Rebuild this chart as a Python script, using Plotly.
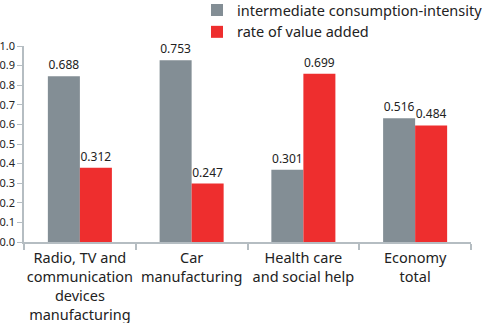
import plotly.graph_objects as go

categories = ["Radio, TV and<br>communication<br>devices<br>manufacturing",
              "Car<br>manufacturing",
              "Health care<br>and social help",
              "Economy<br>total"]
series_names = ["intermediate consumption-intensity", "rate of value added"]
intermediate = [0.846, 0.927, 0.368, 0.631]
value_added = [0.379, 0.298, 0.858, 0.595]
# printed value labels
intermediate_labels = ["0.688", "0.753", "0.301", "0.516"]
value_added_labels = ["0.312", "0.247", "0.699", "0.484"]
y_ticks = [0.0, 0.1, 0.2, 0.3, 0.4, 0.5, 0.6, 0.7, 0.8, 0.9, 1.0]

GRAY = "#838e95"
RED = "#ee2e2e"
AXIS = "#b5bdc2"
FONT = "Noto Sans"

fig = go.Figure()
fig.add_trace(go.Bar(x=categories, y=intermediate, name=series_names[0],
                     marker=dict(color=GRAY, line=dict(width=0)),
                     text=intermediate_labels, textposition="outside",
                     textfont=dict(size=12, color="#222"), cliponaxis=False))
fig.add_trace(go.Bar(x=categories, y=value_added, name=series_names[1],
                     marker=dict(color=RED, line=dict(width=0)),
                     text=value_added_labels, textposition="outside",
                     textfont=dict(size=12, color="#222"), cliponaxis=False))

fig.update_layout(
    width=500, height=323,
    margin=dict(l=24, r=29, t=46, b=81, autoexpand=False),
    paper_bgcolor="white", plot_bgcolor="white",
    barmode="group", bargap=0.427, bargroupgap=0,
    font=dict(family=FONT, color="#222"),
    showlegend=True,
    legend=dict(x=0.387, y=1.265, xref="paper", yref="paper",
                xanchor="left", yanchor="top",
                font=dict(size=14.5, color="#222"), tracegroupgap=0,
                bgcolor="rgba(0,0,0,0)"),
)
fig.update_yaxes(range=[0, 1.0], tickvals=y_ticks,
                 ticktext=[f"{v:.1f}" for v in y_ticks],
                 showgrid=False, zeroline=False, automargin=False,
                 showline=True, linecolor=AXIS, linewidth=1.5,
                 ticks="outside", ticklen=5, tickcolor=AXIS, tickwidth=1,
                 tickfont=dict(size=11, color="#222"))
fig.update_xaxes(showgrid=False, showline=True, linecolor=AXIS, linewidth=2,
                 automargin=False, tickangle=0,
                 ticks="outside", tickson="boundaries", ticklen=6,
                 tickcolor=AXIS, tickwidth=1.5, ticklabelstandoff=2,
                 tickfont=dict(size=14.5, color="#222"))

fig.write_html("out.html")
